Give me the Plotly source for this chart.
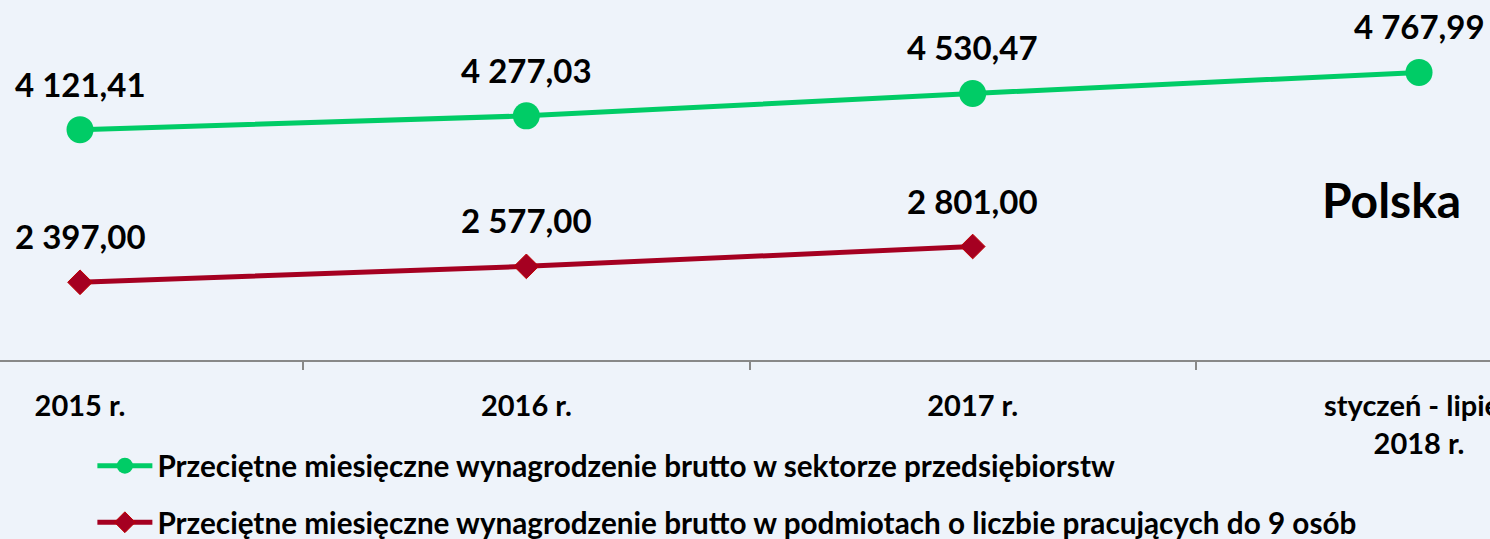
import plotly.graph_objects as go

categories = ["2015 r.", "2016 r.", "2017 r.", "styczeń - lipiec<br>2018 r."]
enterprise_wage = [4121.41, 4277.03, 4530.47, 4767.99]
small_firm_wage = [2397.00, 2577.00, 2801.00]

name_enterprise = "Przeciętne miesięczne wynagrodzenie brutto w sektorze przedsiębiorstw"
name_small = "Przeciętne miesięczne wynagrodzenie brutto w podmiotach o liczbie pracujących do 9 osób"

GREEN = "#00CC66"
RED = "#A50021"
FONT = "Lato"
BG = "#EEF3FA"


def pl_fmt(v):
    return f"{v:,.2f}".replace(",", " ").replace(".", ",")


fig = go.Figure()
fig.add_trace(go.Scatter(
    x=categories, y=enterprise_wage, name=name_enterprise, mode="lines+markers",
    line=dict(color=GREEN, width=5),
    marker=dict(symbol="circle", size=27, color=GREEN),
    legendgroup="a", cliponaxis=False,
))
fig.add_trace(go.Scatter(
    x=categories[:len(small_firm_wage)], y=small_firm_wage, name=name_small, mode="lines+markers",
    line=dict(color=RED, width=5),
    marker=dict(symbol="diamond", size=19, color=RED, line=dict(color="#C00000", width=1)),
    legendgroup="b", cliponaxis=False,
))

annotations = []
for xs, ys in ((categories, enterprise_wage), (categories, small_firm_wage)):
    for xv, yv in zip(xs, ys):
        annotations.append(dict(
            x=xv, y=yv, xref="x", yref="y", text=pl_fmt(yv), showarrow=False,
            yshift=46, font=dict(family=FONT, size=33, color="black", weight="bold"),
        ))
annotations.append(dict(
    x=0.934, y=0.445, xref="paper", yref="paper", text="Polska", showarrow=False,
    xanchor="center", yanchor="middle",
    font=dict(family=FONT, size=48, color="black", weight="bold"),
))

fig.update_layout(
    template="none",
    width=1490, height=539, autosize=False,
    margin=dict(l=0, r=0, t=0, b=179, pad=0),
    paper_bgcolor=BG, plot_bgcolor="rgba(0,0,0,0)",
    font=dict(family=FONT, color="black"),
    xaxis=dict(
        type="category", range=[-0.1793, 3.159], showgrid=False, zeroline=False,
        automargin=False, tickangle=0,
        showline=True, linecolor="#888888", linewidth=2,
        ticks="outside", tickson="boundaries", ticklen=8, tickwidth=2, tickcolor="#888888",
        tickfont=dict(family=FONT, size=29, color="black", weight="bold"),
        ticklabelstandoff=19,
    ),
    yaxis=dict(visible=False, range=[1519, 5586], showgrid=False, zeroline=False, automargin=False),
    showlegend=True,
    legend=dict(
        orientation="v", xref="paper", yref="container",
        x=0.062, xanchor="left", y=0.184, yanchor="top",
        bgcolor="rgba(0,0,0,0)", tracegroupgap=15, itemwidth=55,
        font=dict(family=FONT, size=29.7, color="black", weight="bold"),
    ),
    annotations=annotations,
)

fig.write_html(
    "out.html",
    config={"displayModeBar": False, "responsive": False},
    post_script=f"document.body.style.margin='0';document.body.style.overflow='hidden';document.body.style.background='{BG}';",
)
